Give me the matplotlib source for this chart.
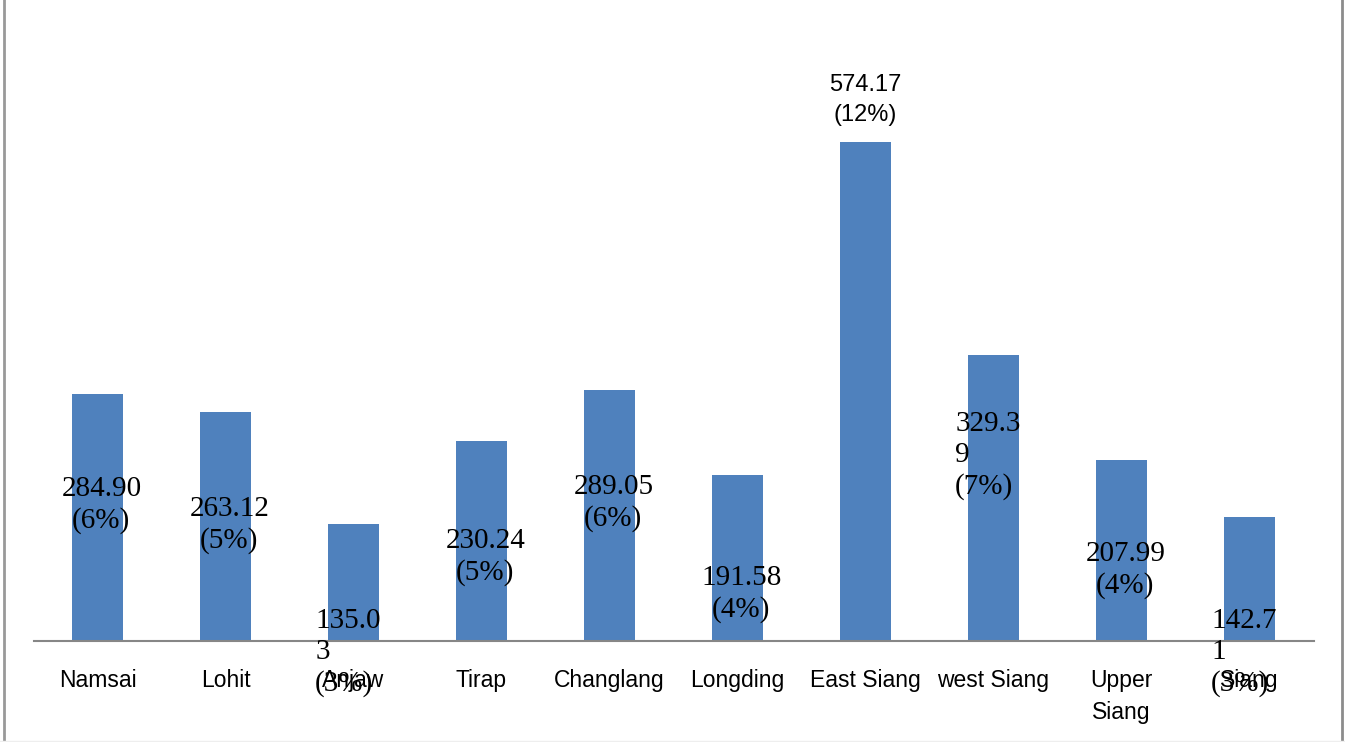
import numpy as np
from matplotlib import pyplot as plt
from matplotlib.lines import Line2D

districts = ["Namsai", "Lohit", "Anjaw", "Tirap", "Changlang", "Longding",
             "East Siang", "west Siang", "Upper\nSiang", "Siang"]
values = [284.90, 263.12, 135.03, 230.24, 289.05, 191.58, 574.17, 329.39, 207.99, 142.71]
labels = ["284.90\n(6%)", "263.12\n(5%)", "135.0\n3\n(3%)", "230.24\n(5%)", "289.05\n(6%)",
          "191.58\n(4%)", "574.17\n(12%)", "329.3\n9\n(7%)", "207.99\n(4%)", "142.7\n1\n(3%)"]
# where the label blocks sit (data units, centre of block)
label_y = [157, 134, -13, 97, 159, 54, 623, 214, 82, -13]

fig = plt.figure(figsize=(13.45, 7.42), dpi=100)
ax = fig.add_axes([33.5 / 1345, 101 / 742, 1280 / 1345, 608 / 742])
x = np.arange(len(districts))
ax.bar(x, values, width=0.4, color="#4F81BD")
ax.set_xlim(-0.5, len(districts) - 0.5)
ax.set_ylim(0, 700)

for i in range(len(districts)):
    if districts[i] == "East Siang":
        ax.text(x[i], label_y[i], labels[i], ha="center", va="center",
                fontsize=17, family="Liberation Sans", linespacing=1.45)
    elif labels[i].count("\n") > 1:
        # wrapped labels, left aligned
        ax.text(x[i] - 0.3, label_y[i], labels[i], ha="left", va="center",
                fontsize=21, family="Liberation Serif", linespacing=1.25,
                clip_on=False)
    else:
        ax.text(x[i] + 0.03, label_y[i], labels[i], ha="center", va="center",
                fontsize=21, family="Liberation Serif", linespacing=1.25)

for s in ["top", "right", "left"]:
    ax.spines[s].set_visible(False)
ax.spines["bottom"].set_color("#868686")
ax.spines["bottom"].set_linewidth(1.5)
ax.set_yticks([])
ax.set_xticks(x)
ax.set_xticklabels(districts, fontsize=16.5, family="Liberation Sans", linespacing=1.5)
ax.tick_params(axis="x", length=0, pad=20)

fig.add_artist(Line2D([4 / 1345, 4 / 1345], [0, 1], color="#999999", lw=2))
fig.add_artist(Line2D([1342 / 1345, 1342 / 1345], [0, 1], color="#8c8c8c", lw=2))
fig.add_artist(Line2D([0, 1], [1 / 742, 1 / 742], color="#eeeeee", lw=1))

fig.savefig("out.png", dpi=100)
